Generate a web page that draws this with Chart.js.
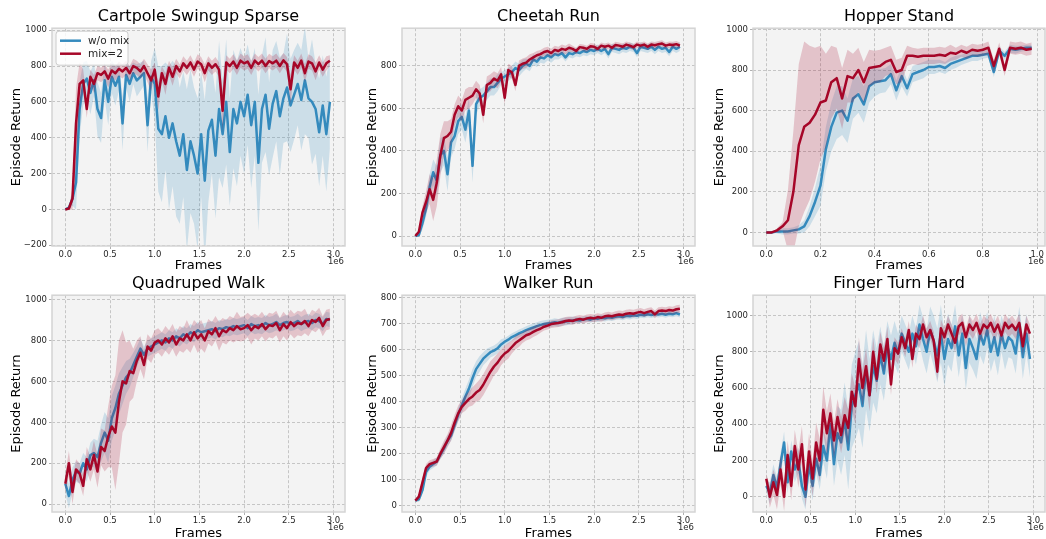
<!DOCTYPE html>
<html>
<head>
<meta charset="utf-8">
<title>Episode Return</title>
<script src="https://cdn.jsdelivr.net/npm/chart.js@4.4.0/dist/chart.umd.min.js"></script>
<style>
    html, body { margin: 0; padding: 0; background: #ffffff; overflow: hidden; }
    #figure { position: relative; width: 1046px; height: 539px; }
    #figure canvas { position: absolute; }
</style>
</head>
<body>
<div id="figure"></div>
<script>
const seriesNames = ["w/o mix", "mix=2"];
const seriesColors = ["#348ABD", "#A60628"];
const bandColors = ["rgba(52, 138, 189, 0.2)", "rgba(166, 6, 40, 0.2)"];

// frames in millions
const framesLong = [0.00, 0.04, 0.08, 0.12, 0.16, 0.20, 0.24, 0.28, 0.32, 0.36, 0.40, 0.44, 0.48, 0.52, 0.56,
    0.60, 0.64, 0.68, 0.72, 0.76, 0.80, 0.84, 0.88, 0.92, 0.96, 1.00, 1.04, 1.08, 1.12, 1.16,
    1.20, 1.24, 1.28, 1.32, 1.36, 1.40, 1.44, 1.48, 1.52, 1.56, 1.60, 1.64, 1.68, 1.72, 1.76,
    1.80, 1.84, 1.88, 1.92, 1.96, 2.00, 2.04, 2.08, 2.12, 2.16, 2.20, 2.24, 2.28, 2.32, 2.36,
    2.40, 2.44, 2.48, 2.52, 2.56, 2.60, 2.64, 2.68, 2.72, 2.76, 2.80, 2.84, 2.88, 2.92, 2.96];
const framesShort = [0.00, 0.02, 0.04, 0.06, 0.08, 0.10, 0.12, 0.14, 0.16, 0.18,
    0.20, 0.22, 0.24, 0.26, 0.28, 0.30, 0.32, 0.34, 0.36, 0.38,
    0.40, 0.42, 0.44, 0.46, 0.48, 0.50, 0.52, 0.54, 0.56, 0.58,
    0.60, 0.62, 0.64, 0.66, 0.68, 0.70, 0.72, 0.74, 0.76, 0.78,
    0.80, 0.82, 0.84, 0.86, 0.88, 0.90, 0.92, 0.94, 0.96, 0.98];

// tick labels
const frameTicksLong = [0.0, 0.5, 1.0, 1.5, 2.0, 2.5, 3.0];
const frameTicksShort = [0.0, 0.2, 0.4, 0.6, 0.8, 1.0];
const cartpoleTicks = [-200, 0, 200, 400, 600, 800, 1000];
const cheetahTicks = [0, 200, 400, 600, 800];
const hopperTicks = [0, 200, 400, 600, 800, 1000];
const quadrupedTicks = [0, 200, 400, 600, 800, 1000];
const walkerTicks = [0, 100, 200, 300, 400, 500, 600, 700, 800];
const fingerTicks = [0, 200, 400, 600, 800, 1000];

// Cartpole Swingup Sparse
const cartpoleNoMix = [0, 10, 60, 150, 560, 700, 730, 650, 720, 560, 510, 720, 600, 740, 690,
    740, 480, 750, 700, 760, 720, 740, 760, 470, 740, 700, 450, 420, 520, 400,
    480, 380, 300, 420, 220, 380, 300, 200, 420, 160, 440, 500, 300, 560, 420,
    600, 320, 560, 480, 600, 520, 640, 470, 600, 260, 560, 640, 450, 590, 660,
    520, 620, 680, 580, 640, 700, 610, 720, 620, 600, 560, 430, 580, 420, 600];
const cartpoleNoMixSpread = [0, 10, 40, 150, 150, 120, 100, 120, 90, 150, 140, 100, 130, 90, 110,
    80, 150, 70, 100, 60, 90, 80, 70, 150, 90, 200, 350, 380, 300, 400,
    350, 420, 380, 350, 450, 400, 380, 420, 350, 450, 400, 300, 350, 380, 300,
    350, 300, 330, 350, 300, 320, 280, 350, 300, 380, 300, 320, 260, 300, 280,
    330, 250, 300, 260, 250, 230, 280, 300, 220, 350, 250, 300, 280, 320, 260];
const cartpoleMix = [0, 5, 60, 480, 700, 720, 560, 740, 700, 760, 750, 770, 730, 775, 760,
    785, 770, 790, 760, 800, 790, 770, 800, 760, 720, 780, 630, 760, 700, 790,
    740, 800, 770, 815, 790, 820, 780, 825, 810, 760, 815, 790, 810, 780, 550,
    820, 800, 825, 790, 830, 815, 825, 790, 830, 810, 830, 800, 828, 815, 830,
    800, 832, 810, 670, 820, 790, 830, 760, 825, 815, 770, 820, 780, 815, 830];
const cartpoleMixSpread = [0, 10, 60, 200, 120, 60, 50, 40, 50, 40, 40, 40, 50, 40, 40,
    40, 40, 40, 40, 40, 40, 40, 40, 50, 60, 40, 80, 40, 60, 40,
    50, 40, 40, 40, 40, 40, 40, 40, 40, 50, 40, 40, 40, 40, 120,
    40, 40, 40, 40, 40, 40, 40, 40, 40, 40, 40, 40, 40, 40, 40,
    40, 40, 40, 80, 40, 40, 40, 50, 40, 40, 50, 40, 40, 40, 30];

// Cheetah Run
const cheetahNoMix = [0, 5, 60, 130, 230, 300, 260, 380, 400, 290, 440, 470, 540, 560, 500,
    590, 330, 620, 650, 660, 680, 700, 700, 720, 740, 750, 760, 770, 790, 780,
    800, 810, 800, 830, 820, 840, 835, 850, 840, 855, 850, 860, 840, 860, 855,
    865, 860, 870, 865, 875, 870, 880, 870, 880, 855, 885, 880, 875, 885, 880,
    890, 885, 860, 890, 885, 880, 890, 875, 890, 880, 885, 865, 890, 880, 890];
const cheetahNoMixSpread = [0, 10, 30, 40, 60, 60, 70, 80, 70, 80, 70, 60, 60, 60, 60,
    60, 80, 50, 40, 40, 40, 40, 40, 40, 30, 30, 30, 30, 30, 30,
    30, 25, 25, 25, 25, 25, 25, 25, 25, 25, 20, 20, 20, 20, 20,
    20, 20, 20, 20, 20, 20, 20, 20, 20, 20, 20, 20, 20, 20, 20,
    20, 20, 20, 20, 20, 20, 20, 20, 20, 20, 20, 20, 20, 20, 20];
const cheetahMix = [0, 20, 110, 160, 220, 170, 250, 380, 460, 470, 490, 570, 610, 590, 640,
    650, 660, 690, 670, 570, 710, 720, 740, 730, 760, 650, 780, 770, 710, 800,
    810, 815, 830, 840, 850, 855, 865, 870, 860, 875, 870, 880, 875, 885, 880,
    870, 888, 885, 880, 892, 890, 880, 895, 890, 895, 885, 898, 895, 890, 900,
    895, 888, 900, 895, 900, 890, 900, 897, 902, 905, 895, 900, 898, 902, 895];
const cheetahMixSpread = [0, 10, 30, 50, 70, 100, 110, 100, 80, 70, 60, 50, 50, 50, 50,
    50, 40, 40, 40, 40, 40, 40, 35, 35, 35, 30, 30, 30, 30, 25,
    25, 25, 25, 20, 20, 20, 20, 20, 20, 20, 20, 20, 20, 20, 15,
    15, 15, 15, 15, 15, 15, 15, 15, 15, 15, 15, 15, 15, 15, 15,
    15, 15, 15, 15, 15, 15, 15, 15, 15, 15, 15, 15, 15, 15, 15];

// Hopper Stand
const hopperNoMix = [0, 0, 5, 5, 5, 10, 15, 30, 80, 150,
    230, 410, 520, 590, 600, 550, 660, 680, 630, 720,
    740, 745, 750, 780, 700, 770, 710, 780, 790, 800,
    815, 815, 820, 810, 830, 840, 850, 860, 870, 870,
    875, 880, 790, 895, 870, 905, 900, 905, 910, 910];
const hopperNoMixSpread = [0, 0, 10, 15, 15, 15, 20, 30, 50, 70,
    100, 110, 120, 130, 120, 110, 100, 90, 90, 80,
    70, 60, 60, 50, 50, 50, 40, 40, 40, 40,
    35, 35, 30, 30, 30, 30, 25, 25, 25, 25,
    20, 20, 25, 20, 20, 20, 20, 15, 15, 15];
const hopperMix = [0, 0, 10, 30, 60, 200, 430, 520, 540, 580,
    640, 650, 740, 760, 660, 770, 760, 800, 740, 810,
    815, 820, 840, 850, 790, 800, 870, 870, 865, 870,
    870, 870, 875, 870, 885, 880, 895, 885, 900, 895,
    900, 910, 820, 905, 800, 910, 905, 910, 900, 905];
const hopperMixSpread = [0, 0, 10, 20, 150, 300, 400, 420, 380, 330,
    280, 230, 180, 150, 150, 130, 120, 110, 100, 90,
    80, 80, 70, 70, 60, 60, 50, 40, 40, 40,
    40, 40, 40, 40, 40, 30, 30, 30, 30, 30,
    30, 30, 30, 30, 30, 30, 30, 30, 30, 30];

// Quadruped Walk
const quadrupedNoMix = [100, 40, 120, 160, 150, 200, 170, 240, 250, 230, 300, 350, 310, 420, 470,
    540, 580, 620, 640, 680, 720, 760, 730, 760, 770, 780, 790, 800, 790, 810,
    800, 820, 810, 830, 820, 840, 830, 850, 840, 845, 850, 855, 845, 860, 855,
    865, 860, 870, 865, 870, 875, 860, 880, 870, 875, 870, 885, 875, 880, 890,
    875, 885, 890, 880, 885, 895, 880, 890, 895, 885, 900, 895, 880, 905, 900];
const quadrupedNoMixSpread = [50, 60, 60, 50, 50, 50, 60, 60, 70, 80, 90, 100, 110, 110, 110,
    100, 90, 80, 70, 60, 50, 50, 40, 40, 40, 40, 40, 40, 40, 40,
    40, 40, 40, 40, 40, 40, 40, 40, 40, 40, 40, 40, 40, 40, 40,
    40, 40, 40, 40, 40, 40, 40, 40, 40, 40, 40, 40, 40, 40, 40,
    35, 35, 35, 35, 35, 35, 35, 35, 35, 35, 35, 35, 35, 35, 35];
const quadrupedMix = [100, 200, 60, 170, 150, 90, 220, 170, 240, 160, 280, 260, 330, 380, 350,
    500, 600, 590, 650, 640, 700, 740, 680, 770, 750, 790, 800, 780, 810, 790,
    820, 780, 810, 800, 830, 800, 840, 810, 830, 800, 845, 830, 860, 820, 850,
    840, 860, 850, 870, 855, 860, 875, 850, 870, 860, 880, 855, 875, 870, 885,
    850, 880, 860, 890, 870, 885, 880, 895, 870, 900, 890, 910, 870, 900, 905];
const quadrupedMixSpread = [50, 60, 60, 50, 50, 50, 60, 60, 70, 80, 90, 100, 150, 200, 280,
    300, 250, 200, 150, 120, 100, 80, 70, 60, 60, 60, 60, 60, 60, 60,
    60, 60, 60, 60, 70, 60, 60, 70, 70, 60, 60, 60, 60, 70, 60,
    60, 60, 60, 70, 60, 60, 60, 70, 60, 60, 60, 60, 60, 60, 60,
    60, 60, 60, 60, 60, 60, 60, 60, 50, 50, 50, 50, 50, 50, 50];

// Walker Run
const walkerNoMix = [20, 25, 60, 130, 150, 160, 170, 195, 220, 250, 270, 310, 350, 385, 420,
    450, 490, 525, 545, 565, 578, 590, 596, 605, 620, 630, 638, 648, 655, 662,
    668, 675, 680, 685, 690, 695, 698, 700, 702, 705, 703, 707, 708, 710, 712,
    714, 712, 716, 718, 715, 720, 718, 722, 720, 724, 722, 726, 728, 725, 730,
    728, 732, 730, 734, 732, 736, 733, 737, 735, 738, 734, 738, 736, 740, 735];
const walkerNoMixSpread = [5, 10, 15, 20, 15, 15, 15, 15, 20, 20, 20, 25, 25, 30, 30,
    35, 35, 30, 30, 25, 25, 20, 20, 20, 20, 15, 15, 15, 15, 15,
    15, 15, 15, 15, 15, 15, 15, 15, 15, 15, 15, 15, 15, 15, 15,
    12, 12, 12, 12, 12, 12, 12, 12, 12, 12, 12, 12, 12, 12, 12,
    12, 12, 12, 12, 12, 12, 12, 12, 12, 12, 12, 12, 12, 12, 12];
const walkerMix = [20, 35, 90, 145, 160, 165, 170, 200, 225, 250, 280, 320, 355, 380, 395,
    410, 420, 435, 445, 465, 490, 515, 535, 550, 570, 585, 595, 610, 625, 635,
    645, 655, 660, 668, 675, 680, 688, 692, 698, 700, 702, 705, 710, 712, 710,
    715, 718, 715, 720, 722, 720, 725, 722, 728, 730, 728, 732, 735, 733, 738,
    740, 738, 742, 745, 740, 745, 748, 735, 748, 750, 748, 752, 750, 755, 757];
const walkerMixSpread = [5, 10, 15, 15, 15, 15, 15, 20, 25, 25, 30, 30, 30, 25, 30,
    30, 35, 35, 40, 40, 40, 40, 35, 35, 30, 30, 30, 25, 25, 25,
    20, 20, 20, 20, 20, 15, 15, 15, 15, 15, 15, 15, 15, 15, 15,
    15, 15, 15, 15, 15, 15, 15, 15, 15, 15, 15, 15, 15, 15, 15,
    15, 15, 15, 15, 15, 15, 15, 15, 15, 15, 15, 15, 15, 15, 15];

// Finger Turn Hard
const fingerNoMix = [60, 20, 120, 50, 180, 300, 80, 250, 150, 200, 60, 0, 180, 60, 210,
    120, 280, 200, 400, 180, 350, 300, 430, 260, 500, 560, 620, 500, 700, 560,
    720, 640, 780, 680, 830, 760, 850, 790, 900, 850, 800, 900, 830, 950, 870,
    800, 920, 860, 780, 900, 760, 870, 820, 940, 780, 900, 710, 870, 820, 760,
    900, 840, 920, 800, 880, 780, 900, 820, 880, 860, 790, 950, 770, 900, 760];
const fingerNoMixSpread = [30, 60, 60, 60, 60, 60, 60, 60, 70, 70, 70, 70, 80, 80, 80,
    80, 90, 100, 100, 120, 150, 180, 200, 220, 230, 240, 240, 230, 220, 200,
    200, 180, 160, 150, 140, 130, 120, 110, 100, 100, 100, 100, 100, 110, 120,
    120, 130, 140, 150, 160, 150, 140, 130, 120, 120, 110, 120, 130, 120, 110,
    120, 110, 100, 110, 120, 110, 100, 120, 110, 100, 110, 100, 120, 110, 100];
const fingerMix = [100, 0, 80, 10, 150, 0, 230, 60, 280, 150, 290, 40, 250, 100, 300,
    200, 480, 350, 460, 310, 440, 340, 450, 380, 580, 500, 760, 600, 720, 560,
    800, 650, 840, 750, 870, 620, 820, 790, 880, 820, 920, 760, 900, 870, 950,
    880, 920, 860, 690, 930, 880, 950, 900, 850, 940, 960, 880, 950, 920, 960,
    900, 950, 930, 960, 910, 950, 890, 960, 930, 950, 920, 960, 830, 950, 900];
const fingerMixSpread = [30, 60, 70, 80, 80, 80, 80, 80, 90, 100, 100, 100, 100, 100, 110,
    120, 130, 120, 110, 100, 100, 100, 100, 100, 100, 100, 120, 100, 100, 90,
    80, 80, 70, 70, 70, 60, 60, 60, 50, 50, 50, 50, 50, 50, 50,
    50, 50, 50, 50, 50, 50, 50, 50, 50, 50, 50, 50, 50, 50, 50,
    50, 50, 50, 50, 50, 50, 50, 50, 50, 50, 50, 50, 50, 50, 50];

const panels = [
    {title: "Cartpole Swingup Sparse", frames: framesLong, noMix: cartpoleNoMix, noMixSpread: cartpoleNoMixSpread,
        mix: cartpoleMix, mixSpread: cartpoleMixSpread, xMin: -0.149, xMax: 3.129, xTicks: frameTicksLong,
        yMin: -204, yMax: 1011, yTicks: cartpoleTicks, left: 9, top: 7, width: 339, height: 266, yAxisW: 43, xAxisH: 27, padRight: 3, legend: true},
    {title: "Cheetah Run", frames: framesLong, noMix: cheetahNoMix, noMixSpread: cheetahNoMixSpread,
        mix: cheetahMix, mixSpread: cheetahMixSpread, xMin: -0.149, xMax: 3.129, xTicks: frameTicksLong,
        yMin: -47, yMax: 977, yTicks: cheetahTicks, left: 365, top: 7, width: 333, height: 266, yAxisW: 37, xAxisH: 27, padRight: 3},
    {title: "Hopper Stand", frames: framesShort, noMix: hopperNoMix, noMixSpread: hopperNoMixSpread,
        mix: hopperMix, mixSpread: hopperMixSpread, xMin: -0.049, xMax: 1.029, xTicks: frameTicksShort,
        yMin: -67, yMax: 1006, yTicks: hopperTicks, left: 712, top: 7, width: 334, height: 266, yAxisW: 41, xAxisH: 27, padRight: 1},
    {title: "Quadruped Walk", frames: framesLong, noMix: quadrupedNoMix, noMixSpread: quadrupedNoMixSpread,
        mix: quadrupedMix, mixSpread: quadrupedMixSpread, xMin: -0.149, xMax: 3.129, xTicks: frameTicksLong,
        yMin: -38, yMax: 1021, yTicks: quadrupedTicks, left: 9, top: 274, width: 339, height: 267, yAxisW: 43, xAxisH: 29, padRight: 3},
    {title: "Walker Run", frames: framesLong, noMix: walkerNoMix, noMixSpread: walkerNoMixSpread,
        mix: walkerMix, mixSpread: walkerMixSpread, xMin: -0.149, xMax: 3.129, xTicks: frameTicksLong,
        yMin: -24, yMax: 809, yTicks: walkerTicks, left: 365, top: 274, width: 333, height: 267, yAxisW: 37, xAxisH: 29, padRight: 3},
    {title: "Finger Turn Hard", frames: framesLong, noMix: fingerNoMix, noMixSpread: fingerNoMixSpread,
        mix: fingerMix, mixSpread: fingerMixSpread, xMin: -0.149, xMax: 3.129, xTicks: frameTicksLong,
        yMin: -84, yMax: 1112, yTicks: fingerTicks, left: 712, top: 274, width: 334, height: 267, yAxisW: 41, xAxisH: 29, padRight: 1}
];

Chart.defaults.font.family = "'DejaVu Sans', sans-serif";
Chart.defaults.color = "#262626";

const axesFrame = {
    id: "axesFrame",
    beforeDraw(chart) {
        const {ctx, chartArea: a} = chart;
        ctx.save();
        ctx.fillStyle = "#f3f3f3";
        ctx.fillRect(a.left, a.top, a.right - a.left, a.bottom - a.top);
        ctx.restore();
    },
    afterDatasetsDraw(chart) {
        const {ctx, chartArea: a} = chart;
        ctx.save();
        ctx.strokeStyle = "#d4d4d4";
        ctx.lineWidth = 1.5;
        ctx.strokeRect(a.left, a.top, a.right - a.left, a.bottom - a.top);
        ctx.restore();
    },
    afterDraw(chart) {
        const {ctx, chartArea: a} = chart;
        ctx.save();
        ctx.font = "8.5px 'DejaVu Sans'";
        ctx.fillStyle = "#262626";
        ctx.textAlign = "right";
        ctx.textBaseline = "middle";
        ctx.fillText("1e6", a.right - 1, a.bottom + 16);
        ctx.restore();
    }
};

const insideLegend = {
    id: "insideLegend",
    afterDatasetsDraw(chart) {
        const {ctx, chartArea: a} = chart;
        const x = a.left + 4;
        const y = a.top + 3;
        ctx.save();
        ctx.beginPath();
        ctx.roundRect(x, y, 72, 34, 3);
        ctx.fillStyle = "rgba(255, 255, 255, 0.8)";
        ctx.fill();
        ctx.strokeStyle = "#cccccc";
        ctx.lineWidth = 1;
        ctx.stroke();
        ctx.font = "10.5px 'DejaVu Sans'";
        ctx.textBaseline = "middle";
        seriesNames.forEach((name, i) => {
            const rowY = y + 9.5 + i * 13;
            ctx.strokeStyle = seriesColors[i];
            ctx.lineWidth = 2.5;
            ctx.beginPath();
            ctx.moveTo(x + 4, rowY);
            ctx.lineTo(x + 25, rowY);
            ctx.stroke();
            ctx.fillStyle = "#262626";
            ctx.fillText(name, x + 32, rowY + 0.5);
        });
        ctx.restore();
    }
};

function toPoints(frames, values, spread, sign) {
    return frames.map((x, i) => ({x: x, y: values[i] + sign * (spread ? spread[i] : 0)}));
}

function lineDataset(p, values, color) {
    return {
        data: toPoints(p.frames, values, null, 0),
        borderColor: color,
        borderWidth: 2.5,
        borderJoinStyle: "round",
        pointRadius: 0,
        tension: 0,
        fill: false
    };
}

function bandDataset(p, values, spread, sign, color, target) {
    return {
        data: toPoints(p.frames, values, spread, sign),
        borderWidth: 0,
        borderColor: "rgba(0,0,0,0)",
        backgroundColor: color,
        pointRadius: 0,
        tension: 0,
        fill: target === null ? false : {target: target}
    };
}

function createPanel(p) {
    const canvas = document.createElement("canvas");
    canvas.width = p.width;
    canvas.height = p.height;
    canvas.style.left = p.left + "px";
    canvas.style.top = p.top + "px";
    document.querySelector("#figure").appendChild(canvas);

    // first dataset is drawn last, so the mix=2 run sits on top
    const datasets = [
        lineDataset(p, p.mix, seriesColors[1]),
        bandDataset(p, p.mix, p.mixSpread, 1, bandColors[1], 2),
        bandDataset(p, p.mix, p.mixSpread, -1, bandColors[1], null),
        lineDataset(p, p.noMix, seriesColors[0]),
        bandDataset(p, p.noMix, p.noMixSpread, 1, bandColors[0], 5),
        bandDataset(p, p.noMix, p.noMixSpread, -1, bandColors[0], null)
    ];

    const gridStyle = {
        color: "#b9b9b9",
        lineWidth: 0.8,
        tickLength: 3,
        tickColor: "#9a9a9a",
        tickWidth: 0.8,
        tickBorderDash: []
    };

    new Chart(canvas, {
        type: "line",
        data: {datasets: datasets},
        options: {
            responsive: false,
            animation: false,
            events: [],
            layout: {padding: {left: 0, right: p.padRight, top: 0, bottom: 0}},
            plugins: {
                legend: {display: false},
                tooltip: {enabled: false},
                title: {
                    display: true,
                    text: p.title,
                    fullSize: false,
                    color: "#000000",
                    font: {size: 16, weight: "normal"},
                    padding: {top: 0, bottom: 2}
                }
            },
            scales: {
                x: {
                    type: "linear",
                    min: p.xMin,
                    max: p.xMax,
                    afterFit: scale => { scale.height = p.xAxisH; },
                    afterBuildTicks: scale => { scale.ticks = p.xTicks.map(v => ({value: v})); },
                    grid: gridStyle,
                    border: {display: false, dash: [3, 2]},
                    ticks: {
                        maxRotation: 0,
                        autoSkip: false,
                        padding: 1,
                        font: {size: 8.5},
                        callback: v => v.toFixed(1)
                    },
                    title: {display: true, text: "Frames", color: "#000000", font: {size: 13}, padding: 0}
                },
                y: {
                    type: "linear",
                    min: p.yMin,
                    max: p.yMax,
                    afterFit: scale => { scale.width = p.yAxisW; },
                    afterBuildTicks: scale => { scale.ticks = p.yTicks.map(v => ({value: v})); },
                    grid: gridStyle,
                    border: {display: false, dash: [3, 2]},
                    ticks: {
                        autoSkip: false,
                        padding: 2,
                        font: {size: 8.5},
                        callback: v => (v < 0 ? "\u2212" + Math.abs(v) : String(v))
                    },
                    title: {display: true, text: "Episode Return", color: "#000000", font: {size: 13}, padding: 0}
                }
            }
        },
        plugins: p.legend ? [axesFrame, insideLegend] : [axesFrame]
    });
}

panels.forEach(createPanel);
</script>
</body>
</html>
